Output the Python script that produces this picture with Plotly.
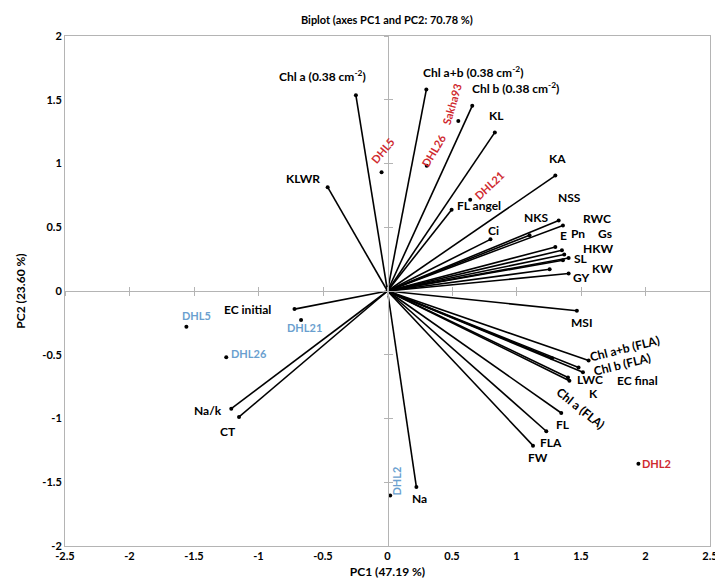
import plotly.graph_objects as go

# ---------------- data ----------------
var_names = ["Chl a (0.38 cm<sup>-2</sup>)", "Chl a+b (0.38 cm<sup>-2</sup>)", "Chl b (0.38 cm<sup>-2</sup>)",
             "KL", "KA", "KLWR", "FL angel", "Ci", "NSS", "NKS", "RWC", "E", "Pn", "Gs", "HKW", "SL",
             "KW", "GY", "MSI", "Chl a+b (FLA)", "Chl b (FLA)", "EC final", "LWC", "K", "Chl a (FLA)",
             "FL", "FLA", "FW", "Na", "EC initial", "Na/k", "CT"]
var_pc1 = [-0.245, 0.301, 0.657, 0.832, 1.301, -0.464, 0.497, 0.798, 1.327, 1.101, 1.360, 1.301,
           1.352, 1.370, 1.404, 1.360, 1.404, 1.257, 1.468, 1.559, 1.481, 1.515, 1.399, 1.410, 1.275,
           1.347, 1.231, 1.128, 0.224, -0.721, -1.211, -1.151]
var_pc2 = [1.535, 1.580, 1.452, 1.244, 0.905, 0.814, 0.637, 0.405, 0.553, 0.4375, 0.514, 0.345,
           0.319, 0.286, 0.259, 0.241, 0.137, 0.170, -0.155, -0.545, -0.600, -0.637, -0.678, -0.704,
           -0.527, -0.957, -1.100, -1.213, -1.538, -0.142, -0.923, -0.988]

obs_names = ["DHL5", "Sakha93", "DHL26", "DHL21", "DHL2", "DHL5", "DHL21", "DHL26", "DHL2"]
obs_pc1 = [-0.046, 0.549, 0.304, 0.641, 1.945, -1.559, -0.670, -1.250, 0.021]
obs_pc2 = [0.931, 1.334, 0.983, 0.715, -1.355, -0.280, -0.228, -0.520, -1.603]
obs_group = ["red", "red", "red", "red", "red", "blue", "blue", "blue", "blue"]

tick_vals_x = [-2.5, -2, -1.5, -1, -0.5, 0, 0.5, 1, 1.5, 2, 2.5]
tick_text_x = ["-2.5", "-2", "-1.5", "-1", "-0.5", "0", "0.5", "1", "1.5", "2", "2.5"]
tick_vals_y = [-2, -1.5, -1, -0.5, 0, 0.5, 1, 1.5, 2]
tick_text_y = ["-2", "-1.5", "-1", "-0.5", "0", "0.5", "1", "1.5", "2"]

title_text = "Biplot (axes PC1 and PC2: 70.78 %)"
x_title = "PC1 (47.19 %)"
y_title = "PC2 (23.60 %)"

# ---------------- label styling (pixel offsets, angles) ----------------
var_label_shift = [(-33, -19), (47, -18), (43, -18), (2, -17), (2, -17), (-25, -9), (27, -4), (3, -9),
                   (11, -23), (6, -18), (34, -7), (8, -12), (16, -17), (41, -21), (29, -9), (18, -2),
                   (34, -5), (31, 8), (5, 12), (36, -12), (43, -3), (55, 8), (22, 2), (24, 13),
                   (29, 50), (2, 11), (5, 11), (5, 12), (3, 11), (-47, 0), (-23, 2), (-11, 15)]
var_label_angle = {19: -14, 20: -14, 24: 39}

obs_label_shift = [(1, -22), (-6, -17), (7, -15), (19, -14), (18, 0), (10, -11), (3, 7), (23, -4), (6, -14)]
obs_label_angle = [-50, -74, -59, -43, 0, 0, 0, 0, -90]
group_colors = {"red": "#cf2a2f", "blue": "#6a9fcf"}

FONT = "Lato, Open Sans, sans-serif"
AXCOL = "#b4b4b4"

fig = go.Figure()

# vectors
lx, ly = [], []
for x, y in zip(var_pc1, var_pc2):
    lx += [0, x, None]
    ly += [0, y, None]
fig.add_trace(go.Scatter(x=lx, y=ly, mode="lines", line=dict(color="black", width=1.6),
                         hoverinfo="skip", showlegend=False))
fig.add_trace(go.Scatter(x=var_pc1, y=var_pc2, mode="markers", marker=dict(color="black", size=4),
                         text=var_names, showlegend=False))
# observations
fig.add_trace(go.Scatter(x=obs_pc1, y=obs_pc2, mode="markers", marker=dict(color="black", size=4),
                         text=obs_names, showlegend=False))

# dummy traces for overlay axes (zero lines with crossing ticks)
fig.add_trace(go.Scatter(x=[None], y=[None], xaxis="x2", yaxis="y2", showlegend=False))
fig.add_trace(go.Scatter(x=[None], y=[None], xaxis="x3", yaxis="y3", showlegend=False))

# labels
for i, (name, x, y) in enumerate(zip(var_names, var_pc1, var_pc2)):
    dx, dy = var_label_shift[i]
    fig.add_annotation(x=x, y=y, text="<b>" + name + "</b>", showarrow=False,
                       xshift=dx, yshift=-dy, textangle=var_label_angle.get(i, 0),
                       font=dict(family=FONT, size=12, color="black"))
for i, (name, x, y) in enumerate(zip(obs_names, obs_pc1, obs_pc2)):
    dx, dy = obs_label_shift[i]
    fig.add_annotation(x=x, y=y, text="<b>" + name + "</b>", showarrow=False,
                       xshift=dx, yshift=-dy, textangle=obs_label_angle[i],
                       font=dict(family=FONT, size=11, color=group_colors[obs_group[i]]))

common = dict(showgrid=False, zeroline=False, automargin=False)
fig.update_layout(
    width=723, height=585,
    margin=dict(l=57, r=21, t=28, b=47),
    paper_bgcolor="white", plot_bgcolor="white",
    font=dict(family=FONT, size=11, color="black"),
    title=dict(text="<b>" + title_text + "</b>", x=0.524, xanchor="center", y=0.979, yanchor="middle",
               font=dict(family=FONT, size=11, color="black")),
    xaxis=dict(range=[-2.5, 2.5], tickvals=tick_vals_x, ticktext=["<b>%s</b>" % t for t in tick_text_x],
               showline=True, linecolor=AXCOL, linewidth=1, mirror=True, ticks="",
               title=dict(text="<b>" + x_title + "</b>", standoff=6, font=dict(size=12)), **common),
    yaxis=dict(range=[-2, 2], tickvals=tick_vals_y, ticktext=["<b>%s</b>" % t for t in tick_text_y],
               showline=True, linecolor=AXCOL, linewidth=1, mirror=True, ticks="",
               title=dict(text="<b>" + y_title + "</b>", standoff=14, font=dict(size=12)), **common),
    xaxis2=dict(range=[-2.5, 2.5], overlaying="x", anchor="free", position=0.5, tickvals=tick_vals_x,
                showline=True, linecolor=AXCOL, ticks="outside", ticklen=4, tickcolor=AXCOL,
                showticklabels=False, **common),
    yaxis2=dict(range=[-2, 2], overlaying="y", anchor="free", position=0.5, tickvals=tick_vals_y,
                showline=True, linecolor=AXCOL, ticks="outside", ticklen=4, tickcolor=AXCOL,
                showticklabels=False, **common),
    xaxis3=dict(range=[-2.5, 2.5], overlaying="x", anchor="free", position=0.5, tickvals=tick_vals_x,
                showline=False, ticks="inside", ticklen=4, tickcolor=AXCOL,
                showticklabels=False, **common),
    yaxis3=dict(range=[-2, 2], overlaying="y", anchor="free", position=0.5, tickvals=tick_vals_y,
                showline=False, ticks="inside", ticklen=4, tickcolor=AXCOL,
                showticklabels=False, **common),
)

fig.write_html("out.html")
